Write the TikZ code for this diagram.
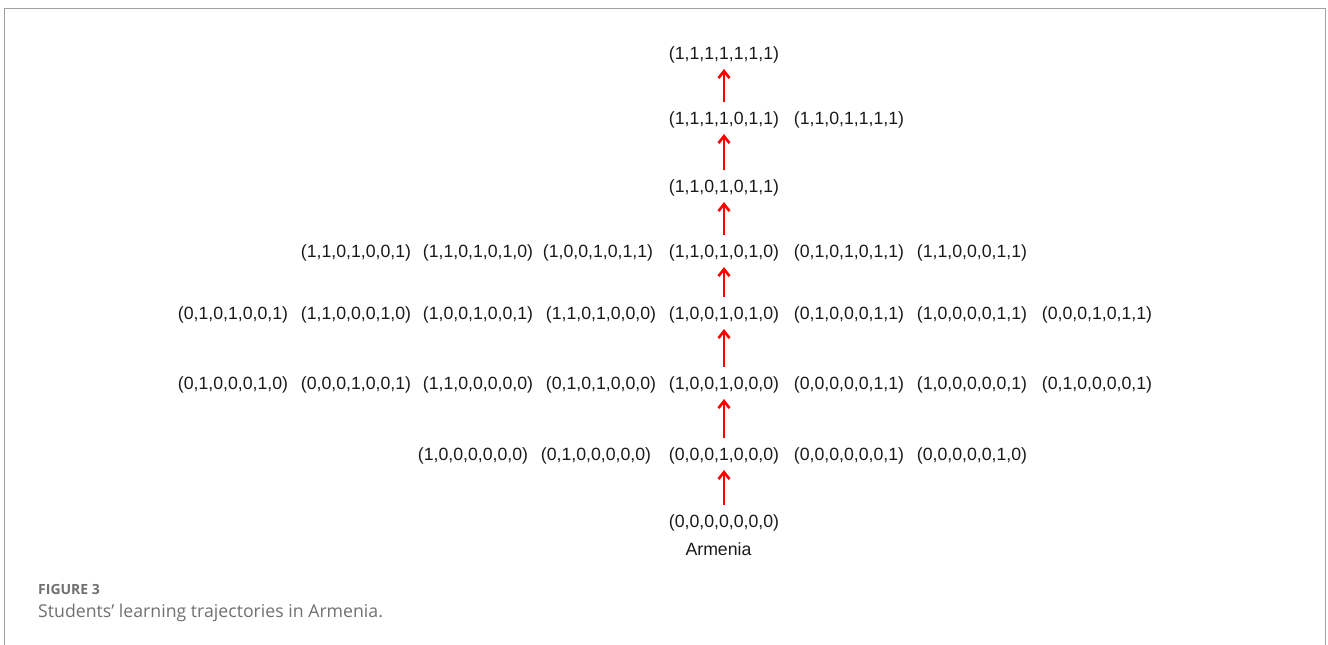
\documentclass[tikz,border=0pt]{standalone}
\usepackage{fontspec}
\setmainfont{Liberation Sans}
\newfontfamily\capfont{Open Sans}
\usetikzlibrary{arrows.meta}
\definecolor{framegray}{HTML}{A0A0A0}
\definecolor{capgray}{HTML}{707070}
\definecolor{txt}{HTML}{1A1A1A}
\begin{document}
\begin{tikzpicture}[x=1pt,y=-1pt,
  st/.style={inner sep=0pt,anchor=base,text=txt,font=\fontsize{17.7}{20}\selectfont},
  up/.style={draw=red,line width=2.6pt,-{Straight Barb[length=7pt,width=11pt,line width=2.6pt]}}]
\useasboundingbox (0,0) rectangle (1328,645);
\draw[framegray,line width=1pt] (4.5,645) -- (4.5,8.5) -- (1325.5,8.5) -- (1325.5,645);
% row 8
\node[st] (r8a) at (724,59) {(1,1,1,1,1,1,1)};
% row 7
\node[st] (r7a) at (724,124) {(1,1,1,1,0,1,1)};
\node[st] (r7b) at (849,124) {(1,1,0,1,1,1,1)};
% row 6
\node[st] (r6a) at (724,192) {(1,1,0,1,0,1,1)};
% row 5
\node[st] (r5a) at (356,257) {(1,1,0,1,0,0,1)};
\node[st] (r5b) at (478,257) {(1,1,0,1,0,1,0)};
\node[st] (r5c) at (598,257) {(1,0,0,1,0,1,1)};
\node[st] (r5d) at (724,257) {(1,1,0,1,0,1,0)};
\node[st] (r5e) at (849,257) {(0,1,0,1,0,1,1)};
\node[st] (r5f) at (972,257) {(1,1,0,0,0,1,1)};
% row 4
\node[st] (r4a) at (233,319) {(0,1,0,1,0,0,1)};
\node[st] (r4b) at (356,319) {(1,1,0,0,0,1,0)};
\node[st] (r4c) at (478,319) {(1,0,0,1,0,0,1)};
\node[st] (r4d) at (601,319) {(1,1,0,1,0,0,0)};
\node[st] (r4e) at (724,319) {(1,0,0,1,0,1,0)};
\node[st] (r4f) at (849,319) {(0,1,0,0,0,1,1)};
\node[st] (r4g) at (972,319) {(1,0,0,0,0,1,1)};
\node[st] (r4h) at (1097,319) {(0,0,0,1,0,1,1)};
% row 3
\node[st] (r3a) at (233,389) {(0,1,0,0,0,1,0)};
\node[st] (r3b) at (356,389) {(0,0,0,1,0,0,1)};
\node[st] (r3c) at (478,389) {(1,1,0,0,0,0,0)};
\node[st] (r3d) at (601,389) {(0,1,0,1,0,0,0)};
\node[st] (r3e) at (724,389) {(1,0,0,1,0,0,0)};
\node[st] (r3f) at (849,389) {(0,0,0,0,0,1,1)};
\node[st] (r3g) at (972,389) {(1,0,0,0,0,0,1)};
\node[st] (r3h) at (1097,389) {(0,1,0,0,0,0,1)};
% row 2
\node[st] (r2a) at (473,460) {(1,0,0,0,0,0,0)};
\node[st] (r2b) at (596,460) {(0,1,0,0,0,0,0)};
\node[st] (r2c) at (724,460) {(0,0,0,1,0,0,0)};
\node[st] (r2d) at (849,460) {(0,0,0,0,0,0,1)};
\node[st] (r2e) at (972,460) {(0,0,0,0,0,1,0)};
% row 1
\node[st] (r1a) at (724,527) {(0,0,0,0,0,0,0)};
\node[st] (arm) at (718.5,555) {Armenia};
% arrows
\draw[up] ([yshift=22pt]r1a.base) -- ([yshift=-10pt]r2c.base);
\draw[up] ([yshift=22pt]r2c.base) -- ([yshift=-10pt]r3e.base);
\draw[up] ([yshift=22pt]r3e.base) -- ([yshift=-10pt]r4e.base);
\draw[up] ([yshift=22pt]r4e.base) -- ([yshift=-10pt]r5d.base);
\draw[up] ([yshift=22pt]r5d.base) -- ([yshift=-10pt]r6a.base);
\draw[up] ([yshift=22pt]r6a.base) -- ([yshift=-10pt]r7a.base);
\draw[up] ([yshift=22pt]r7a.base) -- ([yshift=-10pt]r8a.base);
% caption
\node[anchor=base west,inner sep=0pt,text=capgray,font=\capfont\fontsize{14}{16}\selectfont\bfseries] (fig) at (38,594) {FIGURE 3};
\node[anchor=base west,inner sep=0pt,text=capgray,font=\capfont\fontsize{17.7}{20}\selectfont] (cap) at (38,617) {Students’ learning trajectories in Armenia.};
\end{tikzpicture}
\end{document}
